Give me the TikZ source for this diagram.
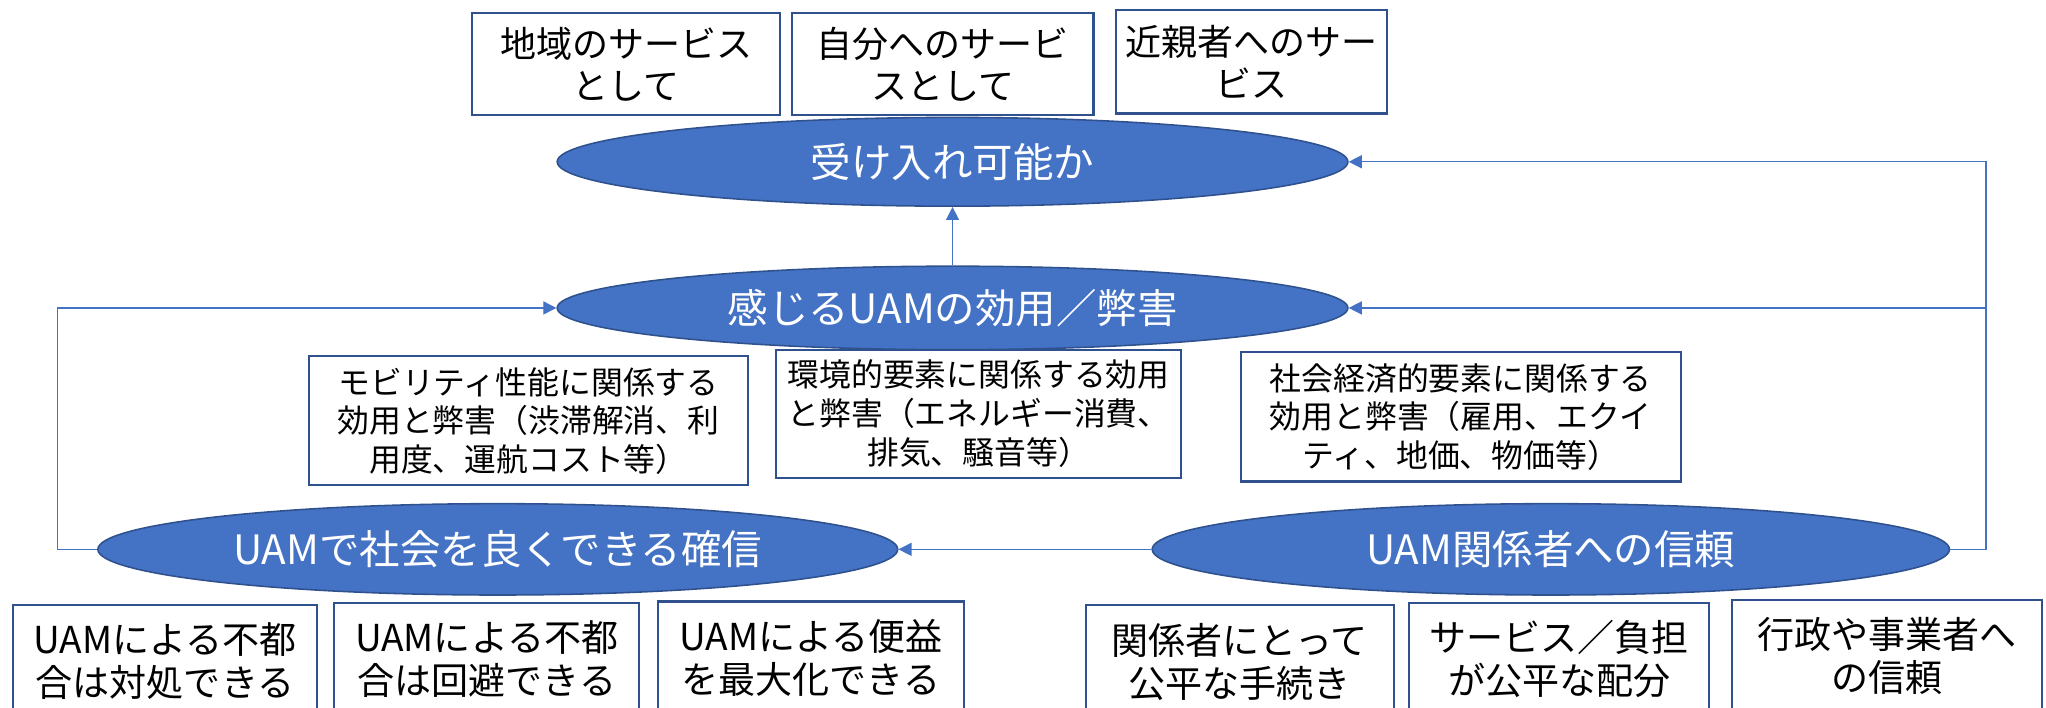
\documentclass[tikz,border=0pt]{standalone}
\usepackage{fontspec}
\setmainfont{Noto Sans CJK JP}
\usetikzlibrary{shapes.geometric,arrows.meta}
\definecolor{ellfill}{HTML}{4472C4}
\definecolor{elldraw}{HTML}{2F528F}
\definecolor{boxdraw}{HTML}{2F528F}
\definecolor{linec}{HTML}{4472C4}
\tikzset{
  ell/.style={ellipse, fill=ellfill, draw=elldraw, line width=0.6pt, text=white, inner sep=0pt, font=\fontsize{15.5}{18}\selectfont},
  topbox/.style={draw=boxdraw, line width=0.8pt, fill=white, align=center, inner sep=0pt, font=\fontsize{13.8}{16}\selectfont},
  midbox/.style={draw=boxdraw, line width=0.8pt, fill=white, align=center, inner sep=0pt, font=\fontsize{12.2}{14.8}\selectfont},
  botbox/.style={draw=boxdraw, line width=0.8pt, fill=white, align=center, inner sep=0pt, font=\fontsize{14.2}{16.5}\selectfont},
  conn/.style={draw=linec, line width=0.5pt, -{Triangle[width=5pt,length=5pt]}},
}
\begin{document}
\begin{tikzpicture}[x=0.5pt,y=0.5pt]
\useasboundingbox (0,0) rectangle (1568,542);
% top boxes
\node[topbox, minimum width=118pt, minimum height=39pt] (t1) at (480,493) {地域のサービス\\として};
\node[topbox, minimum width=115.5pt, minimum height=39pt] (t2) at (722.5,493) {自分へのサービ\\スとして};
\node[topbox, minimum width=104pt, minimum height=39.5pt] (t3) at (959,494.5) {近親者へのサー\\ビス};
% ellipses
\node[ell, minimum width=303pt, minimum height=34pt] (A) at (730,418) {受け入れ可能か};
\node[ell, minimum width=303pt, minimum height=32pt] (B) at (730,306) {感じるUAMの効用／弊害};
\node[ell, minimum width=306.5pt, minimum height=35pt] (C) at (381.5,121) {UAMで社会を良くできる確信};
\node[ell, minimum width=305.5pt, minimum height=35pt] (D) at (1188.5,121) {UAM関係者への信頼};
% middle boxes
\node[midbox, minimum width=168pt, minimum height=49.5pt] (m1) at (405,219.5) {モビリティ性能に関係する\\効用と弊害（渋滞解消、利\\用度、運航コスト等）};
\node[midbox, minimum width=155pt, minimum height=49pt] (m2) at (750,225) {環境的要素に関係する効用\\と弊害（エネルギー消費、\\排気、騒音等）};
\node[midbox, minimum width=168.5pt, minimum height=49.5pt] (m3) at (1119.5,222.5) {社会経済的要素に関係する\\効用と弊害（雇用、エクイ\\ティ、地価、物価等）};
% bottom boxes
\node[botbox, minimum width=116.5pt, minimum height=43pt] (l1) at (126.5,35) {UAMによる不都\\合は対処できる};
\node[botbox, minimum width=117pt, minimum height=43pt] (l2) at (373,37) {UAMによる不都\\合は回避できる};
\node[botbox, minimum width=117.5pt, minimum height=43pt] (l3) at (621.5,38) {UAMによる便益\\を最大化できる};
\node[botbox, minimum width=118pt, minimum height=43pt] (r1) at (950,35) {関係者にとって\\公平な手続き};
\node[botbox, minimum width=115pt, minimum height=43pt] (r2) at (1195,37) {サービス／負担\\が公平な配分};
\node[botbox, minimum width=119pt, minimum height=43pt] (r3) at (1446,39) {行政や事業者へ\\の信頼};
% connector corners
\coordinate (cl1) at (44,121);
\coordinate (cl2) at (44,306);
\coordinate (cr1) at (1522,121);
\coordinate (cr2) at (1522,418);
\coordinate (cr3) at (1522,306);
% connectors
\draw[conn] (B.north) -- (A.south);
\draw[conn] (C.west) -- (cl1) -- (cl2) -- (B.west);
\draw[conn] (D.east) -- (cr1) -- (cr2) -- (A.east);
\draw[conn] (cr3) -- (B.east);
\draw[conn] (D.west) -- (C.east);
\end{tikzpicture}
\end{document}
